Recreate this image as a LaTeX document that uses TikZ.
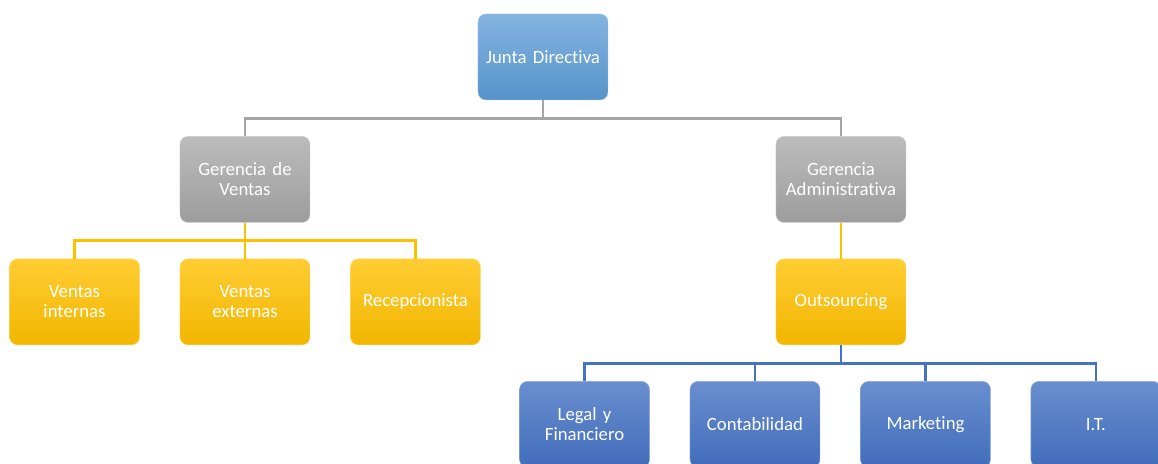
\documentclass[tikz,border=0pt]{standalone}
\usepackage{fontspec}
\setmainfont{Carlito}[Ligatures=NoCommon]
\usetikzlibrary{positioning, calc}
\definecolor{org_blue}{HTML}{5B9BD5}
\definecolor{org_gray}{HTML}{A5A5A5}
\definecolor{org_gold}{HTML}{FFC000}
\definecolor{org_navy}{HTML}{4472C4}
\tikzset{
  unit/.style={rectangle,rounded corners=.24cm,minimum width=3.9cm,minimum height=2.58cm,
    text width=3.6cm,align=center,text=white,font=\fontsize{16}{17}\selectfont,thin},
  board/.style={unit,top color=org_blue!75!white,bottom color=org_blue!95!black,draw=org_blue!60!white},
  manager/.style={unit,top color=org_gray!75!white,bottom color=org_gray!95!black,draw=org_gray!60!white},
  staff/.style={unit,top color=org_gold!80!white,bottom color=org_gold!95!black,draw=org_gold!60!white},
  service/.style={unit,top color=org_navy!80!white,bottom color=org_navy!95!black,draw=org_navy!60!white},
  link/.style={line width=2.4pt},
}
\begin{document}
\begin{tikzpicture}
	    \clip (-16.29,1.71) rectangle (18.45,-12.21);
	    \useasboundingbox (-16.29,1.71) rectangle (18.45,-12.21);
	    \node[board] (junta) {Junta Directiva};
	    \node[manager,below=1.08cm of junta,xshift=-8.94cm] (ventas) {Gerencia de\\ Ventas};
	    \node[manager,below=1.08cm of junta,xshift=8.94cm] (admin) {Gerencia\\ Administrativa};
	    \node[staff,below=1.08cm of ventas] (externas) {Ventas\\ externas};
	    \node[staff,left=1.2cm of externas] (internas) {Ventas\\ internas};
	    \node[staff,right=1.2cm of externas] (recep) {Recepcionista};
	    \node[staff,below=1.08cm of admin] (outs) {Outsourcing};
	    \node[service,below=1.08cm of outs,xshift=-2.58cm] (conta) {Contabilidad};
	    \node[service,left=1.2cm of conta] (legal) {Legal y\\ Financiero};
	    \node[service,right=1.2cm of conta] (mkt) {Marketing};
	    \node[service,right=1.2cm of mkt] (it) {I.T.};
	    % connectors
	    \foreach \n in {ventas,admin}
	      \draw[link,org_gray] (junta.south) -- ++(0,-0.54) -| (\n.north);
	    \foreach \n in {internas,externas,recep}
	      \draw[link,org_gold] (ventas.south) -- ++(0,-0.54) -| (\n.north);
	    \draw[link,org_gold] (admin.south) -- (outs.north);
	    \foreach \n in {legal,conta,mkt,it}
	      \draw[link,org_navy] (outs.south) -- ++(0,-0.54) -| (\n.north);
	\end{tikzpicture}
\end{document}
